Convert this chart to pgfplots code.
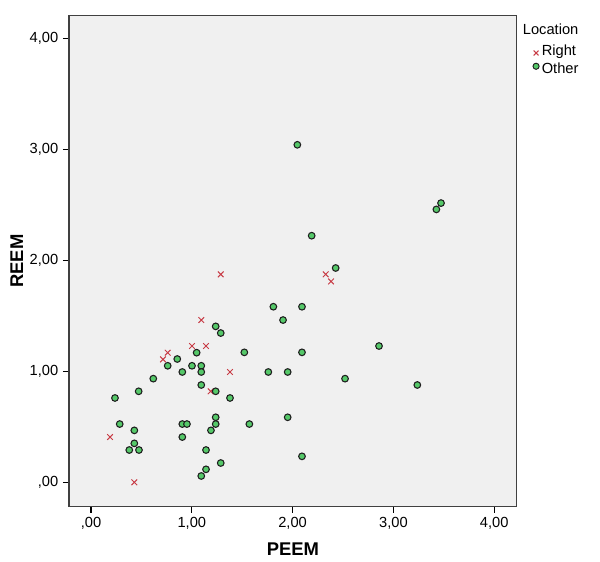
\documentclass[border=0pt]{standalone}
\usepackage{fontspec}
\setmainfont{Liberation Sans}
\usepackage{pgfplots}
\pgfplotsset{compat=1.18}
\definecolor{bgc}{RGB}{240,240,240}
\definecolor{grn}{RGB}{85,200,105}
\definecolor{redx}{RGB}{200,60,70}
\definecolor{edge}{RGB}{30,30,30}
\pgfplotsset{
  rightleg/.style={legend image code/.code={\draw[##1, mark size=2.6pt] plot coordinates {(0pt,-1.5pt)};}},
  otherleg/.style={legend image code/.code={\draw[##1, mark size=2.3pt, line width=0.7pt] plot coordinates {(0pt,2pt)};}},
}
\begin{document}
\begin{tikzpicture}[x=1pt,y=1pt]
\useasboundingbox (0,0) rectangle (450,420.75);
\begin{axis}[
  at={(51.75pt,40.7pt)}, anchor=south west,
  scale only axis, width=335.8pt, height=368.25pt,
  xmin=-0.218, xmax=4.223, ymin=-0.22, ymax=4.204,
  axis background/.style={fill=bgc},
  axis line style={line width=1.1pt, draw=black!75},
  tick pos=left, tick align=outside, major tick length=4.5pt,
  every tick/.style={black, line width=0.8pt},
  xtick={0,1,2,3,4}, ytick={0,1,2,3,4},
  xticklabels={{,00},{1,00},{2,00},{3,00},{4,00}},
  yticklabels={{,00},{1,00},{2,00},{3,00},{4,00}},
  ticklabel style={font=\fontsize{11}{13}\selectfont},
  xlabel={PEEM}, ylabel={REEM},
  label style={font=\fontsize{13.8}{16}\selectfont\bfseries},
  x label style={at={(rel axis cs:0.5,-0.0862)}, anchor=center},
  y label style={at={(rel axis cs:-0.1168,0.5)}, anchor=center},
  legend style={at={(rel axis cs:1,1)}, anchor=north west, xshift=12pt, yshift=-19.5pt,
    draw=none, fill=none, font=\fontsize{11}{13}\selectfont, inner sep=0pt,
    row sep=0pt, cells={anchor=west}},
]
\addplot[only marks, mark=x, mark size=3pt, draw=redx, line width=0.75pt, rightleg] coordinates {
(1.094,1.462) (1.002,1.228) (1.141,1.228) (0.761,1.168) (0.714,1.108)
(1.187,0.82) (0.189,0.408) (0.43,0.0) (1.379,0.994) (1.287,1.874)
(2.328,1.874) (2.381,1.81)
};
\addlegendentry{Right}
\addplot[only marks, mark=*, mark size=2.5pt, draw=edge, fill=grn, line width=0.8pt, otherleg] coordinates {
(1.237,1.405) (1.287,1.345) (1.048,1.168) (0.856,1.111) (0.761,1.05)
(1.002,1.05) (1.094,1.05) (0.906,0.994) (1.094,0.994) (0.618,0.934)
(1.094,0.877) (1.237,0.82) (0.473,0.82) (0.238,0.76) (1.237,0.586)
(0.285,0.525) (0.906,0.525) (0.952,0.525) (1.237,0.525) (0.43,0.468)
(1.19,0.468) (0.906,0.408) (0.43,0.351) (0.38,0.291) (0.476,0.291)
(1.141,0.291) (1.287,0.174) (1.141,0.117) (1.094,0.057) (1.809,1.582)
(2.093,1.582) (1.905,1.462) (1.521,1.171) (2.093,1.171) (1.759,0.994)
(1.951,0.994) (2.52,0.934) (1.379,0.76) (1.571,0.525) (1.951,0.586)
(2.093,0.234) (2.047,3.041) (3.472,2.516) (3.426,2.459) (2.189,2.222)
(2.427,1.931) (2.857,1.228) (3.237,0.877)
};
\addlegendentry{Other}
\end{axis}
\node[anchor=base west, inner sep=0pt, font=\fontsize{11}{13}\selectfont] at (392,394.5) {Location};
\end{tikzpicture}
\end{document}
